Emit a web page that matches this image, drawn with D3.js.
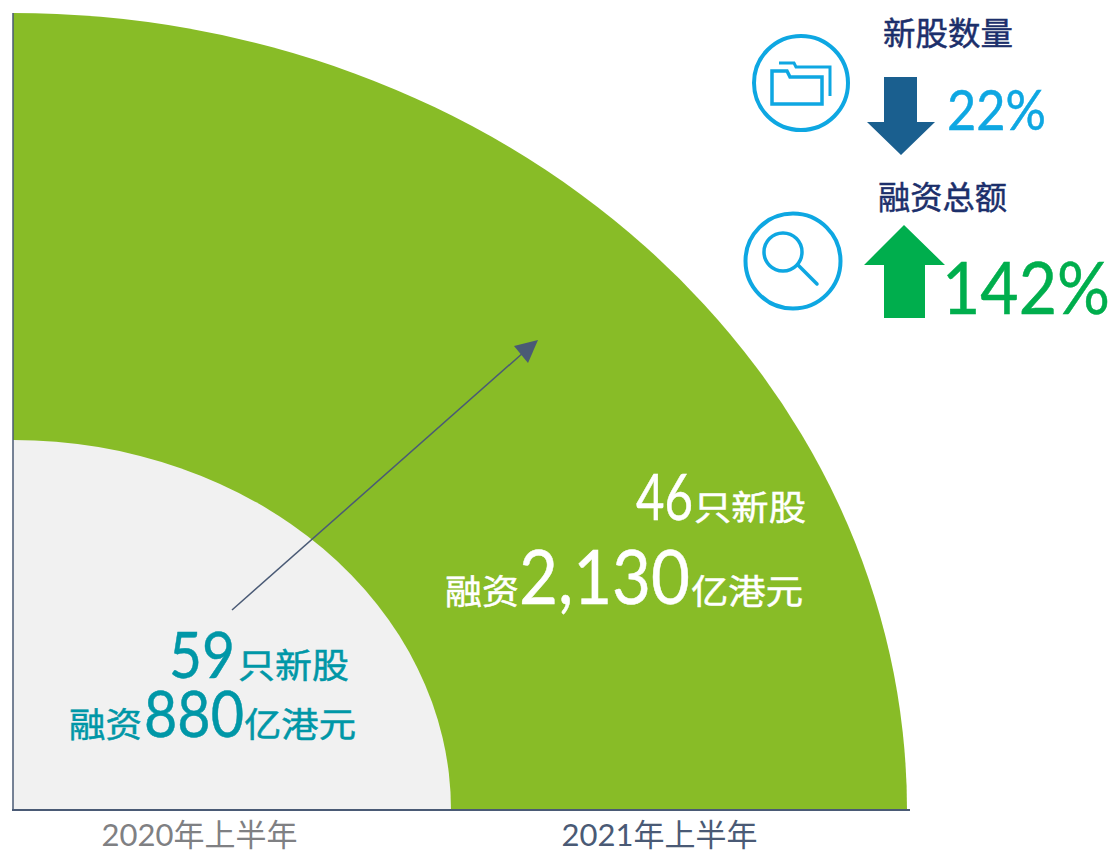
<!DOCTYPE html>
<html lang="zh-CN">

<head>
    <meta charset="UTF-8">
    <title>2021上半年新股融资</title>
    <style>
        html, body { margin: 0; padding: 0; background: #fff; }
        svg { display: block; }
        text { font-family: "Lato", "Noto Sans CJK SC", sans-serif; }
        .domain { display: none; }
    </style>
</head>

<body>
    <svg width="1111" height="853" viewBox="0 0 1111 853"></svg>
    <script src="https://cdn.jsdelivr.net/npm/d3@7"></script>
    <script>
        const categories = ['2020年上半年', '2021年上半年'];
        const amounts = [880, 2130]; // 亿港元
        const counts = [59, 46];
        const changeCount = 22;
        const changeAmount = 142;

        const blue = '#0ea7e2', axisColor = '#4a5a75', navy = '#1c2f6b';
        const fills = ['#f1f1f1', '#88bc27'];
        const labelColors = ['#7f8083', '#4a5a75'];
        const ox = 13, oy = 810;

        var svg = d3.select('svg');

        // 面积图例: 四分之一椭圆, 横纵比例尺不同
        var rx = d3.scaleLinear().domain([0, amounts[0], amounts[1]]).range([0, 438, 894]);
        var ry = d3.scaleLinear().domain([0, amounts[0], amounts[1]]).range([0, 370, 797]);
        var arc = d3.arc().innerRadius(0).outerRadius(1).startAngle(0).endAngle(Math.PI / 2);

        // 大的先画
        svg.selectAll('path.sector')
            .data(amounts.map((d, i) => ({ d, i })).reverse())
            .enter().append('path')
            .attr('class', 'sector')
            .attr('d', arc())
            .attr('transform', o => 'translate(' + ox + ',' + oy + ') scale(' + rx(o.d) + ',' + ry(o.d) + ')')
            .attr('fill', o => fills[o.i]);

        // 坐标轴
        svg.append('line').attr('x1', ox).attr('x2', ox).attr('y1', 13).attr('y2', oy)
            .attr('stroke', axisColor).attr('stroke-width', 1.5);
        svg.append('line').attr('x1', ox - 1).attr('x2', 910).attr('y1', oy).attr('y2', oy)
            .attr('stroke', axisColor).attr('stroke-width', 2);

        var scaleX = d3.scalePoint().domain(categories).range([199, 659]);
        var axisG = svg.append('g').attr('transform', 'translate(0,' + oy + ')')
            .call(d3.axisBottom(scaleX).tickSize(0).tickPadding(13.5));
        axisG.selectAll('text')
            .attr('font-size', 31)
            .style('font-family', '"Lato", "Noto Sans CJK SC", sans-serif')
            .attr('fill', (d, i) => labelColors[i]);

        // 中间的箭头
        svg.append('line').attr('x1', 232).attr('y1', 610).attr('x2', 524).attr('y2', 352)
            .attr('stroke', axisColor).attr('stroke-width', 1.5);
        svg.append('path').attr('d', 'M538,340L514,346L528,363Z').attr('fill', axisColor);

        // 文字: 每段 [内容, 字号, 起点x, 宽度], 原字体偏宽, 横向压到目标宽度
        function runs(y, color, list) {
            list.forEach(function (r) {
                var t = svg.append('text')
                    .attr('font-size', r[1])
                    .attr('fill', color)
                    .attr('stroke', color)
                    .attr('stroke-width', 0.5)
                    .text(r[0]);
                var k = r[3] / t.node().getComputedTextLength();
                t.attr('transform', 'translate(' + r[2] + ',' + y + ') scale(' + k + ',1)');
            });
        }

        runs(678, '#0097a7', [[String(counts[0]), 64, 169, 66], ['只新股', 34, 238, 111]]);
        runs(737, '#0097a7', [['融资', 34, 69, 73], [String(amounts[0]), 64, 144, 100], ['亿港元', 34, 244, 112]]);
        runs(520, '#ffffff', [[String(counts[1]), 64, 636, 57], ['只新股', 34, 694, 112]]);
        runs(604, '#ffffff', [['融资', 34, 445, 74], [d3.format(',')(amounts[1]), 75, 519, 171], ['亿港元', 34, 691, 112]]);

        // 右上角
        runs(45, navy, [['新股数量', 32, 883, 130]]);
        runs(209, navy, [['融资总额', 32, 878, 129]]);
        runs(130, blue, [[changeCount + '%', 56, 947, 99]]);
        runs(314, '#00ae4d', [[changeAmount + '%', 72, 942, 168]]);

        svg.append('path').attr('d', 'M884,77H917V122H935L901,155L867,122H884Z').attr('fill', '#1a5f8f');
        svg.append('path').attr('d', 'M904,225L945,265H925V318H884V265H864Z').attr('fill', '#00ae4d');

        // 图标
        var icons = svg.append('g').attr('fill', 'none').attr('stroke', blue).attr('stroke-width', 4);
        icons.append('circle').attr('cx', 801).attr('cy', 83).attr('r', 47);
        icons.append('circle').attr('cx', 793).attr('cy', 261).attr('r', 47.5);
        icons.append('path').attr('stroke-width', 3.5)
            .attr('d', 'M772,104V71H787L790,77H822V104Z');
        icons.append('path').attr('stroke-width', 3)
            .attr('d', 'M779,63H794L796,67H830V96');
        icons.append('circle').attr('cx', 783).attr('cy', 252).attr('r', 19).attr('stroke-width', 3.5);
        icons.append('line').attr('x1', 798).attr('y1', 265).attr('x2', 817).attr('y2', 284)
            .attr('stroke-width', 3.5).attr('stroke-linecap', 'round');
    </script>
</body>

</html>
